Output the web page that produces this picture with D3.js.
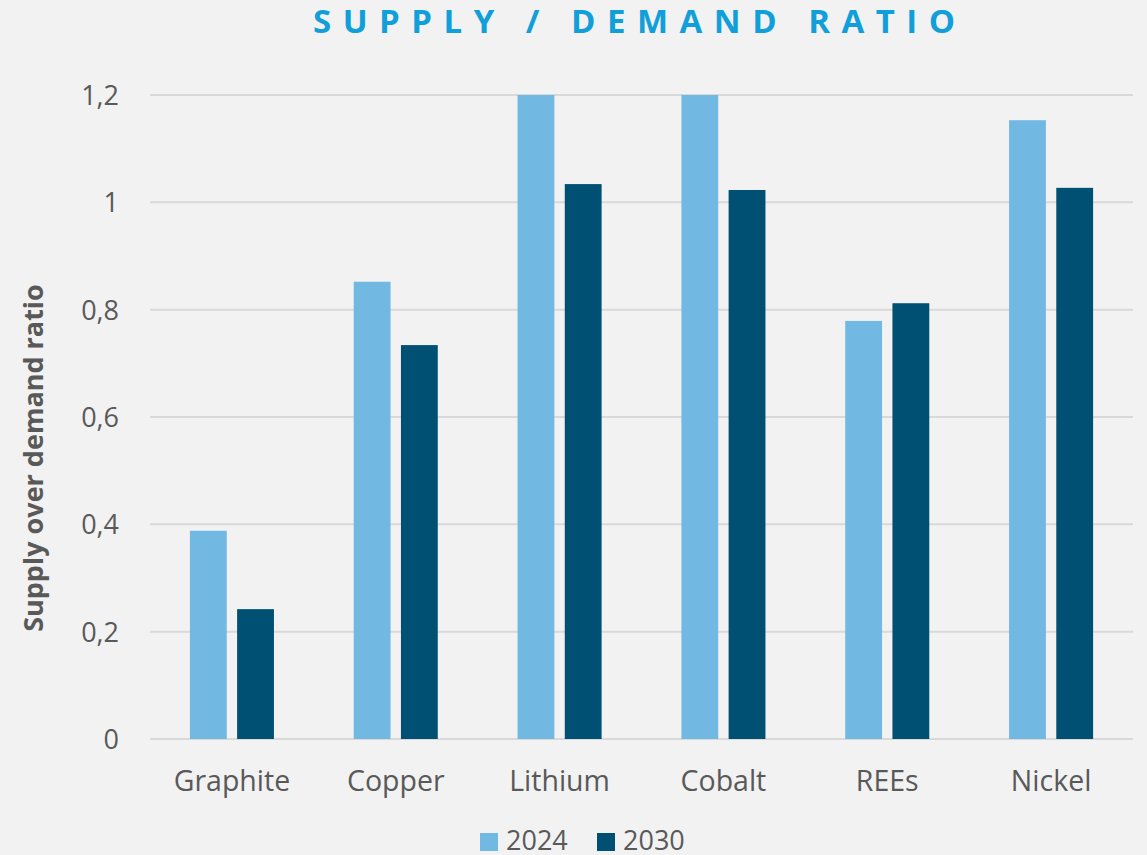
<!DOCTYPE html>
<meta charset="utf-8">
<style>
  body { margin: 0; background: #f2f2f2; }
  svg { display: block; font-family: "Open Sans", "Noto Sans", sans-serif; }
  .tick text { fill: #595959; font-size: 27px; font-family: "Open Sans", "Noto Sans", sans-serif; }
  .grid line { stroke: #d9d9d9; stroke-width: 2; }
  .title { fill: #119fda; font-size: 33px; font-weight: 700; text-anchor: middle; }
  .ylabel { fill: #595959; font-size: 27px; font-weight: 700; text-anchor: middle; }
  .legend text { fill: #595959; font-size: 27px; }
</style>
<body>
<script src="https://cdn.jsdelivr.net/npm/d3@7"></script>
<script>

var width = 1147,
    height = 855;

var categories = ["Graphite", "Copper", "Lithium", "Cobalt", "REEs", "Nickel"];
var seriesNames = ["2024", "2030"];
var values2024 = [0.388, 0.852, 1.2, 1.2, 0.779, 1.153];
var values2030 = [0.242, 0.734, 1.034, 1.023, 0.812, 1.027];
var yTicks = [0, 0.2, 0.4, 0.6, 0.8, 1, 1.2];
var colors = ["#71b8e3", "#005073"];

var margin = {top: 95, right: 14, bottom: 116, left: 150};

var svg = d3.select("body").append("svg")
    .attr("width", width)
    .attr("height", height);

var x0 = d3.scaleBand()
    .domain(categories)
    .range([margin.left, width - margin.right])
    .paddingInner(0.487)
    .paddingOuter(0.2435);

var x1 = d3.scaleBand()
    .domain(seriesNames)
    .range([0, x0.bandwidth()])
    .paddingInner(0.22);

var y = d3.scaleLinear()
    .domain([0, 1.2])
    .range([height - margin.bottom, margin.top]);

// gridlines
svg.append("g")
    .attr("class", "grid")
    .selectAll("line")
    .data(yTicks)
  .enter().append("line")
    .attr("x1", margin.left)
    .attr("x2", width - margin.right)
    .attr("y1", function(d) { return y(d); })
    .attr("y2", function(d) { return y(d); });

// y axis labels
var yAxis = svg.append("g")
    .attr("transform", "translate(" + (margin.left - 31) + ",0)")
    .call(d3.axisLeft(y).tickValues(yTicks).tickSize(0)
      .tickFormat(function(d) { return String(d).replace(".", ","); }));
yAxis.select(".domain").remove();
yAxis.selectAll("text").attr("x", 0).attr("dy", "0.35em");

// bars
var rows = categories.map(function(c, i) {
  return {cat: c, vals: [values2024[i], values2030[i]]};
});

var groups = svg.selectAll(".cat")
    .data(rows)
  .enter().append("g")
    .attr("class", "cat")
    .attr("transform", function(d) { return "translate(" + x0(d.cat) + ",0)"; });

groups.selectAll("rect")
    .data(function(d) { return d.vals.map(function(v, j) { return {s: seriesNames[j], v: v, j: j}; }); })
  .enter().append("rect")
    .attr("x", function(d) { return x1(d.s); })
    .attr("y", function(d) { return y(d.v); })
    .attr("width", x1.bandwidth())
    .attr("height", function(d) { return y(0) - y(d.v); })
    .attr("fill", function(d) { return colors[d.j]; });

// x axis labels
var xAxis = svg.append("g")
    .attr("transform", "translate(0," + (height - margin.bottom) + ")")
    .call(d3.axisBottom(x0).tickSize(0).tickPadding(32));
xAxis.select(".domain").remove();
xAxis.selectAll("text").style("font-size", "28.5px");

// title
svg.append("text")
    .attr("class", "title")
    .attr("x", 634)
    .attr("y", 33)
    .attr("textLength", 642)
    .attr("lengthAdjust", "spacing")
    .text("SUPPLY / DEMAND RATIO");

// y label
svg.append("text")
    .attr("class", "ylabel")
    .attr("transform", "translate(43,458) rotate(-90)")
    .text("Supply over demand ratio");

// legend
var legend = svg.append("g").attr("class", "legend");
var lx = [480, 597];
seriesNames.forEach(function(s, i) {
  legend.append("rect")
      .attr("x", lx[i]).attr("y", 833)
      .attr("width", 18).attr("height", 18)
      .attr("fill", colors[i]);
  legend.append("text")
      .attr("x", lx[i] + 26).attr("y", 850)
      .text(s);
});

</script>
